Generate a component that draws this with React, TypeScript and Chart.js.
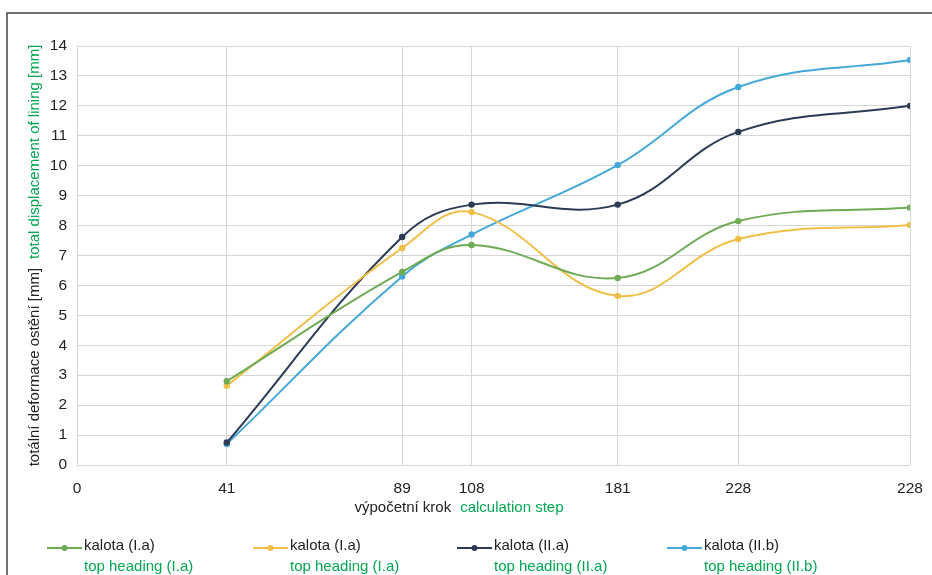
import React, { useEffect, useRef } from "react";
import { Chart, registerables } from "chart.js";

Chart.register(...registerables);

// x positions of the calculation steps on the axis and printed tick labels
const tickPositions = [0, 41, 89, 108, 148, 181, 228];
const tickLabels = ["0", "41", "89", "108", "181", "228", "228"];
const stepPositions = [41, 89, 108, 148, 181, 228];

const seriesNames = ["kalota (I.a)", "kalota (I.a)", "kalota (II.a)", "kalota (II.b)"];
const seriesNamesEn = ["top heading (I.a)", "top heading (I.a)", "top heading (II.a)", "top heading (II.b)"];
const seriesColors = ["#6fab55", "#f0bf48", "#2b3b55", "#44a9d8"];

const greenIa = [2.8, 6.45, 7.35, 6.25, 8.15, 8.6];
const yellowIa = [2.65, 7.25, 8.45, 5.65, 7.55, 8.02];
const navyIIa = [0.75, 7.62, 8.7, 8.7, 11.13, 12.0];
const blueIIb = [0.7, 6.3, 7.7, 10.02, 12.63, 13.53];
const seriesValues = [greenIa, yellowIa, navyIIa, blueIIb];

const yTitleCz = "totální deformace ostění [mm]";
const yTitleEn = "total displacement of lining [mm]";
const xTitleCz = "výpočetní krok";
const xTitleEn = "calculation step";

const FAMILY = "'Liberation Sans', Arial, sans-serif";
const FONT = "15px " + FAMILY;
const TEXT_GREEN = "#00a651";

const decorPlugin = {
  id: "decor",
  beforeDraw(chart: any) {
    const ctx = chart.ctx;
    ctx.save();
    ctx.fillStyle = "#ffffff";
    ctx.fillRect(0, 0, chart.width, chart.height);
    ctx.strokeStyle = "#444444";
    ctx.lineWidth = 1.5;
    ctx.beginPath();
    ctx.moveTo(7, chart.height);
    ctx.lineTo(7, 13);
    ctx.lineTo(chart.width, 13);
    ctx.stroke();
    ctx.restore();
  },
  afterDraw(chart: any) {
    const ctx = chart.ctx;
    const area = chart.chartArea;
    ctx.save();
    ctx.font = FONT;
    ctx.textBaseline = "middle";
    ctx.textAlign = "left";
    // y title
    const gap = 9;
    const w1 = ctx.measureText(yTitleCz).width;
    const w2 = ctx.measureText(yTitleEn).width;
    const total = w1 + gap + w2;
    ctx.save();
    ctx.translate(35, (area.top + area.bottom) / 2);
    ctx.rotate(-Math.PI / 2);
    ctx.fillStyle = "#222222";
    ctx.fillText(yTitleCz, -total / 2, 0);
    ctx.fillStyle = TEXT_GREEN;
    ctx.fillText(yTitleEn, -total / 2 + w1 + gap, 0);
    ctx.restore();
    // x title
    const xw1 = ctx.measureText(xTitleCz).width;
    const xw2 = ctx.measureText(xTitleEn).width;
    const xgap = 9;
    const xt = xw1 + xgap + xw2;
    const xc = 459;
    ctx.fillStyle = "#222222";
    ctx.fillText(xTitleCz, xc - xt / 2, 508);
    ctx.fillStyle = TEXT_GREEN;
    ctx.fillText(xTitleEn, xc - xt / 2 + xw1 + xgap, 508);
    // legend
    const lineStarts = [47, 253, 457, 667];
    for (let i = 0; i < seriesNames.length; i++) {
      const x0 = lineStarts[i];
      const y0 = 548;
      ctx.strokeStyle = seriesColors[i];
      ctx.lineWidth = 2;
      ctx.beginPath();
      ctx.moveTo(x0, y0);
      ctx.lineTo(x0 + 35, y0);
      ctx.stroke();
      ctx.fillStyle = seriesColors[i];
      ctx.beginPath();
      ctx.arc(x0 + 17.5, y0, 3, 0, Math.PI * 2);
      ctx.fill();
      ctx.fillStyle = "#222222";
      ctx.fillText(seriesNames[i], x0 + 37, 546);
      ctx.fillStyle = TEXT_GREEN;
      ctx.fillText(seriesNamesEn[i], x0 + 37, 567);
    }
    ctx.restore();
  },
};

export default function App() {
  const ref = useRef<HTMLCanvasElement>(null);
  useEffect(() => {
    if (!ref.current) return;
    const chart = new Chart(ref.current, {
      type: "line",
      data: {
        datasets: seriesValues.map((vals, i) => ({
          label: seriesNames[i],
          data: vals.map((v, j) => ({ x: stepPositions[j], y: v })),
          borderColor: seriesColors[i],
          backgroundColor: seriesColors[i],
          borderWidth: 2,
          pointRadius: 3.2,
          pointBorderWidth: 0,
          tension: 0.4,
          fill: false,
        })),
      },
      options: {
        animation: false,
        responsive: false,
        layout: { padding: { left: 0, top: 46, right: 22, bottom: 70 } },
        plugins: { legend: { display: false }, tooltip: { enabled: false } },
        scales: {
          x: {
            type: "linear",
            min: 0,
            max: 228,
            afterBuildTicks: (scale: any) => {
              scale.ticks = tickPositions.map((v) => ({ value: v }));
            },
            afterFit: (scale: any) => {
              scale.height = 40;
              scale.paddingRight = 0;
              scale.paddingLeft = 0;
            },
            ticks: {
              autoSkip: false,
              maxRotation: 0,
              padding: 14,
              color: "#222222",
              font: { family: FAMILY, size: 15.5 },
              callback: (_v: any, i: number) => tickLabels[i],
            },
            grid: { color: "#d6d6d6", lineWidth: 1, drawTicks: false },
            border: { display: false },
          },
          y: {
            min: 0,
            max: 14,
            afterFit: (scale: any) => {
              scale.width = 77;
            },
            ticks: {
              stepSize: 1,
              padding: 10,
              color: "#222222",
              font: { family: FAMILY, size: 15.5 },
            },
            grid: { color: "#d6d6d6", lineWidth: 1, drawTicks: false },
            border: { display: false },
          },
        },
      },
      plugins: [decorPlugin],
    } as any);
    return () => chart.destroy();
  }, []);
  return (
    <div style={{ position: "absolute", left: 0, top: 0, width: 932, height: 575, background: "#fff" }}>
      <canvas ref={ref} width={932} height={575} style={{ display: "block" }} />
    </div>
  );
}
